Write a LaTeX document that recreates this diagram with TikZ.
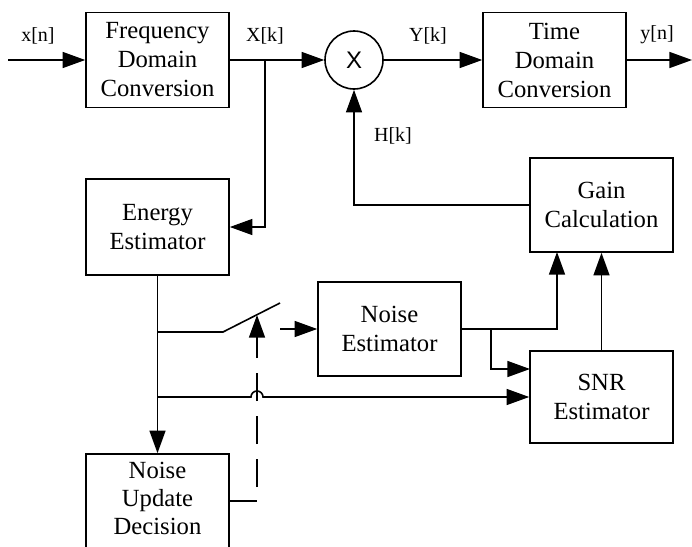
\documentclass[tikz,border=0pt]{standalone}
\usepackage{fontspec}
\setmainfont{Liberation Serif}
\newfontfamily\sansf{Liberation Sans}
\usetikzlibrary{arrows.meta}
\begin{document}
\begin{tikzpicture}[x=0.75pt,y=-0.75pt,
  blk/.style={draw, line width=1.2pt, align=center, font=\fontsize{18.5}{21.75}\selectfont, inner sep=0pt, minimum width=107.25pt},
  lbl/.style={font=\fontsize{15}{18}\selectfont, inner sep=0pt},
  wire/.style={line width=1.2pt},
  arr/.style={wire, -{Triangle[length=17pt,width=12pt]}},
  dsh/.style={dash pattern=on 21pt off 11.25pt}
  ]
\clip (0,0) rectangle (692,546);
% blocks
\node[blk, minimum height=71.25pt] (fdc) at (157.5,60) {Frequency\\Domain\\Conversion};
\node[draw, circle, line width=1.2pt, minimum size=43.5pt, inner sep=0pt, font=\sansf\fontsize{18}{20}\selectfont] (mul) at (354,60) {X};
\node[blk, minimum height=71.25pt] (tdc) at (554.5,60) {Time\\Domain\\Conversion};
\node[blk, minimum height=72pt] (en) at (157.5,227) {Energy\\Estimator};
\node[blk, minimum height=70.5pt] (gain) at (601.5,205) {Gain\\Calculation};
\node[blk, minimum height=70.5pt] (ne) at (389.5,329) {Noise\\Estimator};
\node[blk, minimum height=69pt] (snr) at (601.5,397) {SNR\\Estimator};
\node[blk, minimum height=82.5pt] (nud) at (157.5,509) {};
\node[align=center, inner sep=0pt, font=\fontsize{18.5}{21}\selectfont] (nudt) at (157.5,498) {Noise\\Update\\Decision};
% labels
\node[lbl] (lxn) at (38,36) {x[n]};
\node[lbl] (lXk) at (265,36) {X[k]};
\node[lbl] (lYk) at (428,36) {Y[k]};
\node[lbl] (lyn) at (657,35) {y[n]};
\node[lbl] (lHk) at (393,136) {H[k]};
% coordinates
\coordinate (in) at (8,60);
\coordinate (out) at (692,60);
\coordinate (xk) at (265,60);
\coordinate (sw0) at (157.5,332);
\coordinate (sw1) at (223,332);
\coordinate (sw2) at (280,303);
\coordinate (swo) at (280,329);
\coordinate (dstub) at (257,501);
\coordinate (dend) at (257,487);
\coordinate (dtip) at (257,315);
\coordinate (hop0) at (157.5,397);
\coordinate (hopL) at (251,397);
\coordinate (g1) at (557,252);
\coordinate (j1) at (491,329);
\coordinate (s1) at (530,369);
% connectors
\draw[arr] (in) -- (fdc.west);
\draw[arr] (fdc.east) -- (mul.west);
\draw[arr] (xk) |- (en.east);
\draw[arr] (mul.east) -- (tdc.west);
\draw[arr] (tdc.east) -- (out);
\draw[arr] (gain.west) -| (mul.south);
\draw[arr] (en.south) -- (nud.north);
\draw[wire] (sw0) -- (sw1) -- (sw2);
\draw[arr] (swo) -- (ne.west);
\draw[wire] (nud.east |- dstub) -- (dstub);
\draw[arr, dsh] (dend) -- (dtip);
\draw[arr] (hop0) -- (hopL) arc[start angle=180, end angle=0, radius=4.5pt] -- (snr.west |- hopL);
\draw[arr] (ne.east) -| (g1);
\draw[arr] (j1) |- (s1);
\draw[arr] (snr.north) -- (gain.south -| snr.north);
\end{tikzpicture}
\end{document}
